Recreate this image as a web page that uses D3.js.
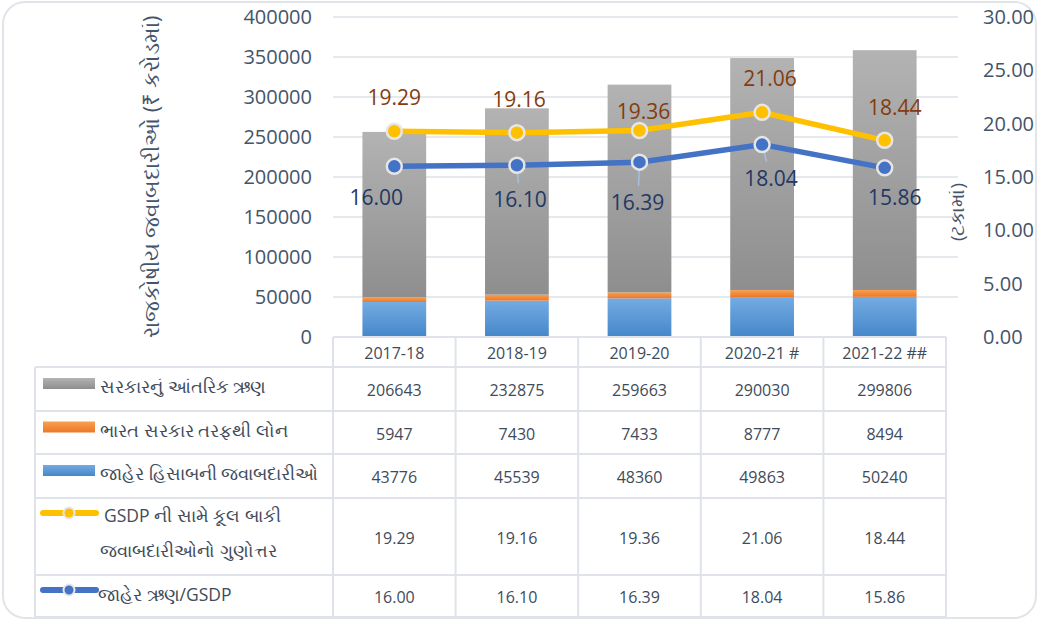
<!DOCTYPE html>
<html>
<head>
<meta charset="utf-8">
<script src="https://cdn.jsdelivr.net/npm/d3@7"></script>
<style>
  body { margin: 0; background: #fff; }
  text { font-family: "Open Sans", "Noto Sans", sans-serif; }
</style>
</head>
<body>
<div id="chart"></div>
<script>
const years = ['2017-18', '2018-19', '2019-20', '2020-21 #', '2021-22 ##'];
const internalDebt = [206643, 232875, 259663, 290030, 299806];
const centreLoans = [5947, 7430, 7433, 8777, 8494];
const publicAccount = [43776, 45539, 48360, 49863, 50240];
const liabRatio = [19.29, 19.16, 19.36, 21.06, 18.44];
const debtRatio = [16.00, 16.10, 16.39, 18.04, 15.86];
const leftTicks = [0, 50000, 100000, 150000, 200000, 250000, 300000, 350000, 400000];
const rightTicks = [0, 5, 10, 15, 20, 25, 30];

const names = {
    internal: 'સરકારનું આંતરિક ઋણ',
    loans: 'ભારત સરકાર તરફથી લોન',
    account: 'જાહેર હિસાબની જવાબદારીઓ',
    ratio: ['GSDP ની સામે કૂલ બાકી', 'જવાબદારીઓનો ગુણોત્તર'],
    debt: 'જાહેર ઋણ/GSDP'
};
const leftTitle = 'રાજકોષીય જવાબદારીઓ (₹ કરોડમાં)';
const rightTitle = '(ટકામાં)';

// label offsets from the point (layout only)
const ratioLabelOff = [[0, -34], [2, -34], [4, -19], [8, -34], [10, -33]];
const debtLabelOff = [[-18, 31], [3, 34], [-2, 40], [9, 33], [10, 29]];
const leaders = [false, true, true, true, false];

const W = 1039, H = 622;
const plotTop = 17, plotBottom = 337;
const svg = d3.select('#chart').append('svg')
    .attr('width', W).attr('height', H);

// frame
svg.append('rect')
    .attr('x', 3).attr('y', 2).attr('width', 1033).attr('height', 616)
    .attr('rx', 22)
    .attr('fill', '#fff').attr('stroke', '#e1e5ea').attr('stroke-width', 2);

const defs = svg.append('defs');
function grad(id, top, bottom) {
    const g = defs.append('linearGradient').attr('id', id)
        .attr('x1', 0).attr('y1', 0).attr('x2', 0).attr('y2', 1);
    g.append('stop').attr('offset', '0%').attr('stop-color', top);
    g.append('stop').attr('offset', '100%').attr('stop-color', bottom);
}
grad('gGray', '#b3b3b3', '#8e8e8e');
grad('gOrange', '#f7a050', '#ec7728');
grad('gBlue', '#74abe2', '#4587ca');

const x = d3.scaleBand().domain(years).range([333, 946]).paddingInner(0);
const y = d3.scaleLinear().domain([0, 400000]).range([plotBottom, plotTop]);
const y2 = d3.scaleLinear().domain([0, 30]).range([plotBottom, plotTop]);

// grid
svg.append('g').selectAll('line').data(leftTicks.slice(1)).join('line')
    .attr('x1', 333).attr('x2', 958)
    .attr('y1', d => y(d)).attr('y2', d => y(d))
    .attr('stroke', '#dde1e6').attr('stroke-width', 1.5);

// left axis
const axL = svg.append('g').attr('transform', 'translate(312,0)')
    .call(d3.axisLeft(y).tickValues(leftTicks).tickSize(0).tickPadding(0).tickFormat(d3.format('d')));
axL.select('.domain').remove();
axL.selectAll('text').attr('font-size', 20).attr('fill', '#44546a')
    .attr('font-family', '"Open Sans", sans-serif');

// right axis
const axR = svg.append('g').attr('transform', 'translate(983,0)')
    .call(d3.axisRight(y2).tickValues(rightTicks).tickSize(0).tickPadding(0).tickFormat(d3.format('.2f')));
axR.select('.domain').remove();
axR.selectAll('text').attr('font-size', 20).attr('fill', '#44546a')
    .attr('font-family', '"Open Sans", sans-serif');

// axis titles
svg.append('text')
    .attr('transform', 'translate(150,177) rotate(-90)')
    .attr('text-anchor', 'middle').attr('dominant-baseline', 'central')
    .attr('font-size', 21.5).attr('fill', '#44546a')
    .text(leftTitle);
svg.append('text')
    .attr('transform', 'translate(957,212) rotate(-90)')
    .attr('text-anchor', 'middle').attr('dominant-baseline', 'central')
    .attr('font-size', 19).attr('fill', '#44546a')
    .text(rightTitle);

// stacked bars
const rows = years.map((yr, i) => ({
    year: yr, account: publicAccount[i], loans: centreLoans[i], internal: internalDebt[i]
}));
const stack = d3.stack().keys(['account', 'loans', 'internal'])(rows);
const fills = { account: 'url(#gBlue)', loans: 'url(#gOrange)', internal: 'url(#gGray)' };
const bw = x.bandwidth() * 0.52;
svg.append('g').selectAll('g').data(stack).join('g')
    .attr('fill', s => fills[s.key])
    .selectAll('rect').data(s => s).join('rect')
    .attr('x', d => x(d.data.year) + (x.bandwidth() - bw) / 2)
    .attr('width', bw)
    .attr('y', d => y(d[1]))
    .attr('height', d => y(d[0]) - y(d[1]));

// lines
const cx = (d, i) => x(years[i]) + x.bandwidth() / 2;
function drawLine(vals, color, labelColor, offs, withLeaders) {
    const line = d3.line().x((d, i) => cx(d, i)).y(d => y2(d));
    svg.append('path').datum(vals)
        .attr('d', line).attr('fill', 'none')
        .attr('stroke', color).attr('stroke-width', 5.5);
    if (withLeaders) {
        const idx = vals.map((d, i) => i).filter(i => leaders[i]);
        svg.append('g').selectAll('line').data(idx).join('line')
            .attr('x1', i => cx(vals[i], i))
            .attr('y1', i => y2(vals[i]))
            .attr('x2', i => cx(vals[i], i) + offs[i][0] * 0.5)
            .attr('y2', i => y2(vals[i]) + offs[i][1] - 16)
            .attr('stroke', '#a9bfdc').attr('stroke-width', 1.5);
    }
    svg.append('g').selectAll('circle').data(vals).join('circle')
        .attr('cx', (d, i) => cx(d, i)).attr('cy', d => y2(d)).attr('r', 7.5)
        .attr('fill', color).attr('stroke', '#e6e6e6').attr('stroke-width', 2.5);
    svg.append('g').selectAll('text').data(vals).join('text')
        .attr('x', (d, i) => cx(d, i) + offs[i][0])
        .attr('y', (d, i) => y2(d) + offs[i][1])
        .attr('text-anchor', 'middle').attr('dominant-baseline', 'central')
        .attr('font-size', 21).attr('fill', labelColor)
        .text(d => d.toFixed(2));
}
drawLine(liabRatio, '#ffc000', '#843c0c', ratioLabelOff, false);
drawLine(debtRatio, '#4472c4', '#1f3864', debtLabelOff, true);

// data table
const rowY = [337, 367, 411, 454, 498, 575, 617];
const tLeft = 35, tRight = x.range()[1];
const border = '#dfe3e9';
const tbl = svg.append('g');

// horizontal lines
tbl.selectAll('line.h').data(rowY).join('line').attr('class', 'h')
    .attr('x1', (d, i) => i === 0 ? 333 : tLeft)
    .attr('x2', tRight)
    .attr('y1', d => d).attr('y2', d => d)
    .attr('stroke', border).attr('stroke-width', 2);
// vertical lines
const colX = years.map(yr => x(yr)).concat([tRight]);
tbl.selectAll('line.v').data(colX).join('line').attr('class', 'v')
    .attr('x1', d => d).attr('x2', d => d)
    .attr('y1', rowY[0]).attr('y2', rowY[6])
    .attr('stroke', border).attr('stroke-width', 2);
tbl.append('line')
    .attr('x1', tLeft).attr('x2', tLeft).attr('y1', rowY[1]).attr('y2', rowY[6])
    .attr('stroke', border).attr('stroke-width', 2);

// header
tbl.selectAll('text.hd').data(years).join('text').attr('class', 'hd')
    .attr('x', d => x(d) + x.bandwidth() / 2)
    .attr('y', (rowY[0] + rowY[1]) / 2 + 1)
    .attr('text-anchor', 'middle').attr('dominant-baseline', 'central')
    .attr('font-size', 16).attr('fill', '#404b5a')
    .text(d => d);

const tableRows = [
    { vals: internalDebt, fmt: d3.format('d') },
    { vals: centreLoans, fmt: d3.format('d') },
    { vals: publicAccount, fmt: d3.format('d') },
    { vals: liabRatio, fmt: d3.format('.2f') },
    { vals: debtRatio, fmt: d3.format('.2f') }
];
tableRows.forEach((r, ri) => {
    const mid = (rowY[ri + 1] + rowY[ri + 2]) / 2;
    tbl.append('g').selectAll('text').data(r.vals).join('text')
        .attr('x', (d, i) => x(years[i]) + x.bandwidth() / 2)
        .attr('y', mid + 1)
        .attr('text-anchor', 'middle').attr('dominant-baseline', 'central')
        .attr('font-size', 16).attr('fill', '#404b5a')
        .text(r.fmt);
});

// legend keys
const legendSize = 17.5;
const keyFill = ['url(#gGray)', 'url(#gOrange)', 'url(#gBlue)'];
const keyNames = [names.internal, names.loans, names.account];
keyFill.forEach((f, k) => {
    const mid = (rowY[k + 1] + rowY[k + 2]) / 2;
    tbl.append('rect').attr('x', 43).attr('y', mid - 11).attr('width', 52).attr('height', 11)
        .attr('fill', f);
    tbl.append('text').attr('x', 100).attr('y', mid - 3)
        .attr('dominant-baseline', 'central')
        .attr('font-size', legendSize).attr('fill', '#404b5a')
        .text(keyNames[k]);
});
function lineKey(yy, color) {
    tbl.append('line').attr('x1', 43).attr('x2', 96).attr('y1', yy).attr('y2', yy)
        .attr('stroke', color).attr('stroke-width', 6).attr('stroke-linecap', 'round');
    tbl.append('circle').attr('cx', 69).attr('cy', yy).attr('r', 5.5)
        .attr('fill', color).attr('stroke', '#e6e6e6').attr('stroke-width', 2);
}
lineKey(513, '#ffc000');
lineKey(590, '#4472c4');
tbl.append('text').attr('x', 104).attr('y', 515).attr('dominant-baseline', 'central')
    .attr('font-size', legendSize).attr('fill', '#404b5a').text(names.ratio[0]);
tbl.append('text').attr('x', 100).attr('y', 550).attr('dominant-baseline', 'central')
    .attr('font-size', legendSize).attr('fill', '#404b5a').text(names.ratio[1]);
tbl.append('text').attr('x', 98).attr('y', 594).attr('dominant-baseline', 'central')
    .attr('font-size', legendSize).attr('fill', '#404b5a').text(names.debt);
</script>
</body>
</html>
